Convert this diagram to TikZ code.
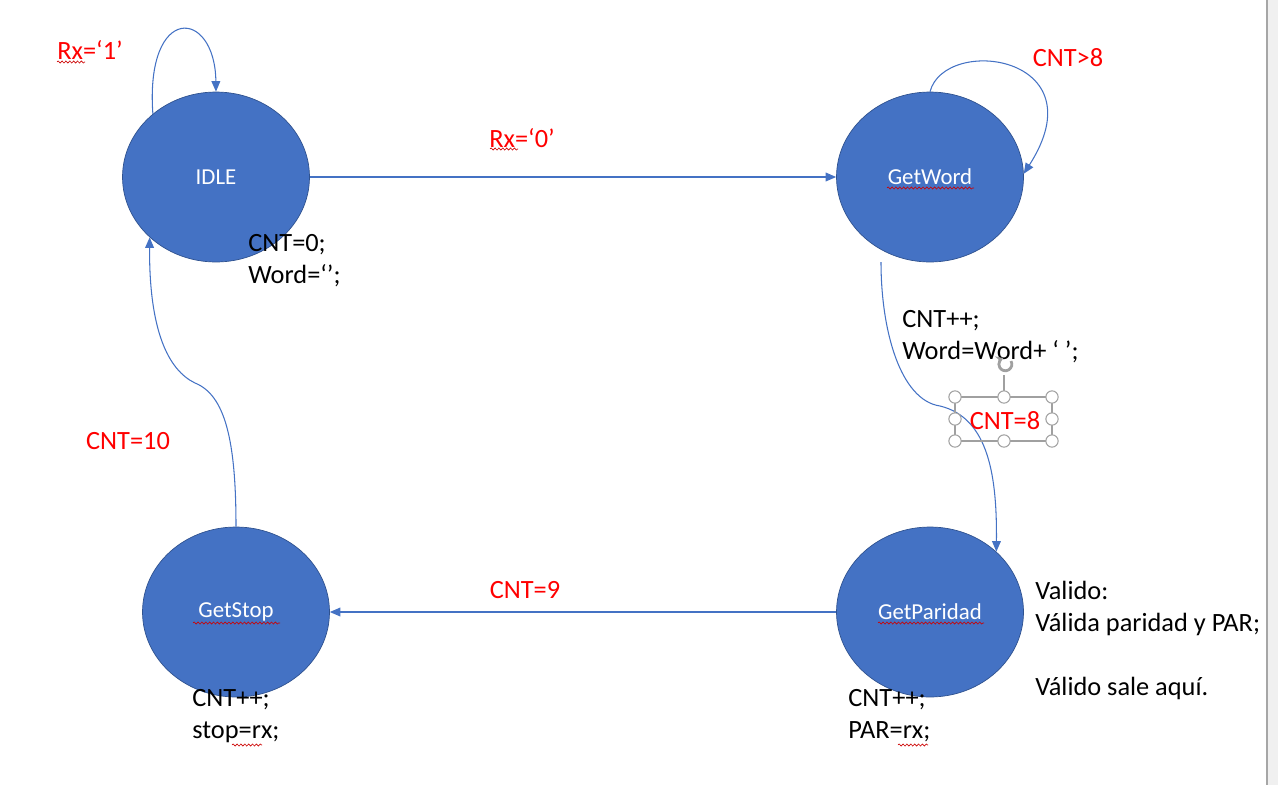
\documentclass[tikz,border=0pt]{standalone}
\usepackage{fontspec}
\setmainfont{Carlito}
\usetikzlibrary{shapes.geometric,arrows.meta,decorations.pathmorphing}
\definecolor{stblue}{HTML}{4472C4}
\definecolor{stedge}{HTML}{2F528F}
\definecolor{selgray}{HTML}{A0A0A0}
\begin{document}
\begin{tikzpicture}[x=0.02cm,y=-0.02cm,
  st/.style={ellipse,draw=stedge,line width=0.4pt,fill=stblue,text=white,minimum width=3.74cm,minimum height=3.4cm,font=\fontsize{13}{15}\selectfont},
  tr/.style={draw=stblue,line width=0.6pt,-{Triangle[length=6pt,width=5pt]}},
  cond/.style={text=red,font=\fontsize{15}{18}\selectfont,inner sep=0pt},
  act/.style={anchor=west,align=left,inner sep=0pt,font=\fontsize{15}{18.2}\selectfont},
  squiggle/.style={draw=red!80!black,line width=0.35pt,decorate,decoration={snake,amplitude=0.6pt,segment length=2.2pt}},
  handle/.style={draw=selgray,fill=white,line width=0.6pt,circle,inner sep=0pt,minimum size=7pt}]
\useasboundingbox (0,0) rectangle (1278,785);
\fill[gray!12] (1268,0) rectangle (1278,785);
\draw[gray!70,line width=0.8pt] (1267,0) -- (1267,785);
% states
\node[st] (idle) at (216,177) {IDLE};
\node[st] (getword) at (930,177) {GetWord};
\node[st] (getstop) at (236,612) {GetStop};
\node[st] (getparidad) at (930,612) {GetParidad};
\coordinate (wstart) at (881,262);
% transitions
\draw[tr] (idle.135) .. controls (145,3) and (215,8) .. (idle.90);
\draw[tr] (idle) -- (getword);
\draw[tr] (getword.90) .. controls (945,35) and (1100,55) .. (getword.2);
\draw[tr] (wstart) .. controls (881,330) and (900,400) .. (940,406) .. controls (990,418) and (997,480) .. (getparidad.north east);
\draw[tr] (getparidad) -- (getstop);
\draw[tr] (getstop.north) .. controls (236,440) and (225,395) .. (195,383) .. controls (168,370) and (149,330) .. (idle.south west);
% conditions
\node[cond] (c1) at (90,50) {Rx=‘1’};
\node[cond] (c0) at (522,138) {Rx=‘0’};
\node[cond] (cgt8) at (1068,58) {CNT>8};
\node[cond] (c8) at (1005,421) {CNT=8};
\node[cond] (c9) at (525,590) {CNT=9};
\node[cond] (c10) at (128,441) {CNT=10};
% actions
\node[act] (aidle) at (248,261) {CNT=0;\\Word=‘’;};
\node[act] (aword) at (902,337) {CNT++;\\Word=Word+ ‘ ’;};
\node[act] (apar) at (848,716) {CNT++;\\PAR=rx;};
\node[act] (astop) at (192,716) {CNT++;\\stop=rx;};
\node[act] (valid) at (1035,640) {Valido:\\Válida paridad y PAR;\\~\\Válido sale aquí.};
% spell check marks
\draw[squiggle] (57,62) -- (85,62);
\draw[squiggle] (490,149) -- (518,149);
\draw[squiggle] (887,188) -- (974,188);
\draw[squiggle] (193,623) -- (280,623);
\draw[squiggle] (878,623) -- (984,623);
\draw[squiggle] (898,745) -- (928,745);
\draw[squiggle] (232,745) -- (262,745);
% selection frame
\draw[selgray,line width=0.6pt] (955,397) rectangle (1052,441);
\draw[selgray,line width=0.6pt] (1004,397) -- (1004,375);
\draw[selgray,line width=1.6pt,-{Stealth[length=4pt,width=5pt]}] (1011,361) arc (-30:250:6.5);
\foreach \hx in {955,1004,1052}
  \foreach \hy in {397,441}
    \node[handle] at (\hx,\hy) {};
\node[handle] at (955,419) {};
\node[handle] at (1052,419) {};
\end{tikzpicture}
\end{document}
